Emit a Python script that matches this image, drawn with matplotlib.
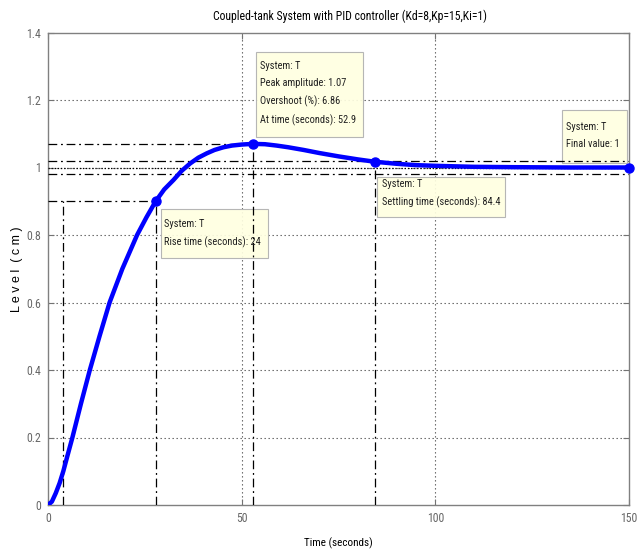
import matplotlib
matplotlib.use("Agg")
import matplotlib.pyplot as plt
from matplotlib.patches import Rectangle

# step response
time_s = [0, 1, 2, 3, 3.95, 5, 6.3, 8.5, 10.8, 13.3, 15.9, 19.2, 23.0, 25.4, 27.8, 30,
          32.4, 34.5, 36.7, 38.8, 41, 43, 45.3, 47.5, 50, 52.9, 56, 59, 62, 66, 70, 75,
          80, 84.4, 90, 95, 100, 110, 120, 135, 150]
level_cm = [0, 0.01, 0.035, 0.065, 0.1, 0.145, 0.2, 0.3, 0.4, 0.5, 0.6, 0.7, 0.8, 0.852,
            0.9, 0.935, 0.963, 0.99, 1.012, 1.029, 1.042, 1.052, 1.06, 1.065, 1.068, 1.07,
            1.069, 1.065, 1.06, 1.052, 1.043, 1.033, 1.024, 1.017, 1.011, 1.007, 1.005,
            1.002, 1.001, 1.0, 1.0]

# characteristics
t10, t90 = 3.95, 27.8
peak_t, peak_y = 52.9, 1.07
settle_t, settle_y = 84.4, 1.017
final_t, final_y = 150, 1.0
band_hi, band_lo = 1.02, 0.98

xticks = [0, 50, 100, 150]
yticks = [0, 0.2, 0.4, 0.6, 0.8, 1, 1.2, 1.4]
ytick_labels = ["0", "0.2", "0.4", "0.6", "0.8", "1", "1.2", "1.4"]

plt.rcParams["font.family"] = ["Roboto Condensed", "Liberation Sans", "DejaVu Sans"]

fig = plt.figure(figsize=(6.4, 5.5), dpi=100)
ax = fig.add_axes([48 / 640, 1 - 505 / 550, 581 / 640, 472.5 / 550])

grid_kw = dict(color="0.35", lw=0.8, ls=(0, (1.2, 2.4)), zorder=1)
for x in xticks[1:-1]:
    ax.axvline(x, **grid_kw)
for y in yticks[1:-1]:
    ax.axhline(y, **grid_kw)

dd = dict(color="black", lw=0.9, ls=(0, (7, 3, 1.5, 3)), zorder=3)
# rise time
ax.plot([0, t90], [0.9, 0.9], **dd)
ax.plot([t10, t10], [0, 0.9], **dd)
ax.plot([t90, t90], [0, 0.9], **dd)
# peak
ax.plot([0, peak_t], [peak_y, peak_y], **dd)
ax.plot([peak_t, peak_t], [0, peak_y], **dd)
# settling band
ax.plot([0, 150], [band_hi, band_hi], **dd)
ax.plot([0, 150], [band_lo, band_lo], **dd)
ax.plot([settle_t, settle_t], [0, settle_y], **dd)
# final value
ax.plot([0, 150], [final_y, final_y], color="black", lw=0.9, ls=(0, (1, 1.5)), zorder=3)

ax.plot(time_s, level_cm, color="#0000ff", lw=3.2, solid_capstyle="round",
        solid_joinstyle="round", zorder=4)
ax.plot([t90, peak_t, settle_t, final_t], [0.9, peak_y, settle_y, final_y], "o",
        color="#0000ff", ms=6.5, zorder=5, clip_on=False)

# data tips
tips = [
    ((53.7, 1.091), 27.5, 0.252, (54.7, 1.218),
     "System: T\nPeak amplitude: 1.07\nOvershoot (%): 6.86\nAt time (seconds): 52.9"),
    ((29.1, 0.731), 27.6, 0.146, (29.95, 0.805), "System: T\nRise time (seconds): 24"),
    ((85.0, 0.854), 33.0, 0.119, (86.2, 0.924), "System: T\nSettling time (seconds): 84.4"),
    ((132.7, 1.013), 16.8, 0.157, (133.7, 1.095), "System: T\nFinal value: 1"),
]
for xy, w, h, txy, s in tips:
    ax.add_patch(Rectangle(xy, w, h, fc="#ffffe1", ec="#b0b0b0", lw=0.8, alpha=0.92, zorder=2.5))
    ax.text(txy[0], txy[1], s, fontsize=7.5, va="center", ha="left", linespacing=1.85,
            color="#202020", zorder=6)

ax.set_xlim(0, 150)
ax.set_ylim(0, 1.4)
ax.set_xticks(xticks)
ax.set_yticks(yticks)
ax.set_yticklabels(ytick_labels)
ax.tick_params(direction="in", top=True, right=True, length=4, width=0.8,
               colors="0.45", labelsize=8.5, labelcolor="0.4", pad=5)
for sp in ax.spines.values():
    sp.set_color("0.5")
    sp.set_linewidth(1)

ax.set_title("Coupled-tank System with PID controller (Kd=8,Kp=15,Ki=1)",
             fontsize=8.5, pad=9, x=0.519)
ax.set_xlabel("Time (seconds)", fontsize=8, labelpad=9)
fig.text(17 / 640, 1 - 269 / 550, "L e v e l  ( c m )", rotation=90, fontsize=9,
         family="Liberation Sans", ha="center", va="center")

fig.savefig("out.png", dpi=100)
